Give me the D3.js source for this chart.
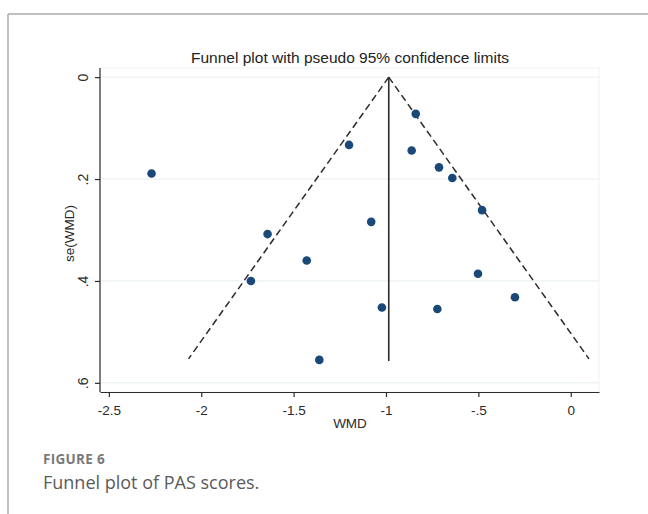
<!DOCTYPE html>
<html>
<head>
<meta charset="utf-8">
<script src="https://cdn.jsdelivr.net/npm/d3@7"></script>
<style>
  body { margin: 0; background: #fff; }
  svg { display: block; }
</style>
</head>
<body>
<svg width="648" height="514"></svg>
<script>
// study estimates
var wmd = [-2.269, -1.200, -1.080, -1.641, -1.429, -1.731, -1.022, -1.361,
           -0.839, -0.861, -0.713, -0.641, -0.480, -0.502, -0.302, -0.722]
var se_wmd = [0.189, 0.133, 0.284, 0.308, 0.360, 0.400, 0.452, 0.555,
              0.072, 0.144, 0.177, 0.198, 0.261, 0.386, 0.432, 0.455]

// pooled estimate and the depth of the pseudo 95% limits
var pooled = -0.985
var se_max = 0.553
var z95 = 1.96

var x_ticks = [-2.5, -2, -1.5, -1, -0.5, 0]
var x_labels = ["-2.5", "-2", "-1.5", "-1", "-.5", "0"]
var y_ticks = [0, 0.2, 0.4, 0.6]
var y_labels = ["0", ".2", ".4", ".6"]

function funnel_plot() {
    var svg = d3.select("svg")
    var font = "'Liberation Sans', Arial, sans-serif"
    var ink = "#2b2b2b"

    // frame of the figure panel
    svg.append("line").attr("x1", 8).attr("x2", 648).attr("y1", 14).attr("y2", 14)
        .attr("stroke", "#aaa").attr("stroke-width", 1.5)
    svg.append("line").attr("x1", 8).attr("x2", 8).attr("y1", 14).attr("y2", 514)
        .attr("stroke", "#aaa").attr("stroke-width", 1.5)

    var x = d3.scaleLinear().domain([-2.548, 0.153]).range([100, 599])
    var y = d3.scaleLinear().domain([-0.018, 0.618]).range([68, 392])

    // plot region outline (faint)
    svg.append("rect")
        .attr("x", 100).attr("y", 68).attr("width", 499).attr("height", 324)
        .attr("fill", "none").attr("stroke", "#eef1f3").attr("stroke-width", 1)

    // grid lines
    svg.append("g").selectAll("line").data(y_ticks).enter().append("line")
        .attr("x1", 100).attr("x2", 599)
        .attr("y1", function (d) { return y(d) }).attr("y2", function (d) { return y(d) })
        .attr("stroke", "#e7eef1").attr("stroke-width", 1)

    // x axis
    var gx = svg.append("g")
        .attr("transform", "translate(0,392)")
        .call(d3.axisBottom(x).tickValues(x_ticks).tickSize(5).tickSizeOuter(0).tickPadding(8)
            .tickFormat(function (d, i) { return x_labels[i] }))
    gx.selectAll("path, line").attr("stroke", ink).attr("stroke-width", 1.2)
    gx.selectAll("text").attr("font-family", font).attr("font-size", 13.5).attr("fill", ink)

    // y axis, labels turned like Stata
    var gy = svg.append("g")
        .attr("transform", "translate(100,0)")
        .call(d3.axisLeft(y).tickValues(y_ticks).tickSize(5).tickSizeOuter(0)
            .tickFormat(function (d, i) { return y_labels[i] }))
    gy.select(".domain").attr("d", "M0," + y.range()[0] + "V" + y.range()[1])
    gy.selectAll("path, line").attr("stroke", ink).attr("stroke-width", 1.2)
    gy.selectAll("text")
        .attr("font-family", font).attr("font-size", 14).attr("fill", ink)
        .attr("transform", "rotate(-90)")
        .attr("x", 0).attr("y", -12).attr("dy", 0)
        .attr("text-anchor", "middle")

    // pseudo confidence limits
    var apex = [x(pooled), y(0)]
    var left = [x(pooled - z95 * se_max), y(se_max)]
    var right = [x(pooled + z95 * se_max), y(se_max)]
    ;[left, right].forEach(function (p) {
        svg.append("line")
            .attr("x1", apex[0]).attr("y1", apex[1]).attr("x2", p[0]).attr("y2", p[1])
            .attr("stroke", ink).attr("stroke-width", 1.5)
            .attr("stroke-dasharray", "7,4")
    })
    svg.append("line")
        .attr("x1", x(pooled)).attr("x2", x(pooled))
        .attr("y1", y(0)).attr("y2", y(se_max) + 2)
        .attr("stroke", ink).attr("stroke-width", 1.6)

    // studies
    svg.append("g").selectAll("circle").data(wmd).enter().append("circle")
        .attr("cx", function (d) { return x(d) })
        .attr("cy", function (d, i) { return y(se_wmd[i]) })
        .attr("r", 4.3)
        .attr("fill", "#1a4878")

    // titles
    svg.append("text")
        .attr("x", 350).attr("y", 63)
        .attr("text-anchor", "middle")
        .attr("font-family", font).attr("font-size", 15.5).attr("fill", "#222")
        .text("Funnel plot with pseudo 95% confidence limits")
    svg.append("text")
        .attr("x", 350).attr("y", 428)
        .attr("text-anchor", "middle")
        .attr("font-family", font).attr("font-size", 13.5).attr("fill", ink)
        .text("WMD")
    svg.append("text")
        .attr("transform", "translate(74," + y(0.307) + ") rotate(-90)")
        .attr("text-anchor", "middle")
        .attr("font-family", font).attr("font-size", 13.5).attr("fill", ink)
        .text("se(WMD)")

    // caption
    svg.append("text")
        .attr("x", 43).attr("y", 464)
        .attr("font-family", "'Open Sans', sans-serif").attr("font-size", 13.5)
        .attr("font-weight", "bold").attr("fill", "#7a7a7a")
        .attr("letter-spacing", 0.3)
        .text("FIGURE 6")
    svg.append("text")
        .attr("x", 43).attr("y", 489)
        .attr("font-family", "'Open Sans', sans-serif").attr("font-size", 18)
        .attr("fill", "#5a5a5a")
        .text("Funnel plot of PAS scores.")
}

funnel_plot()
</script>
</body>
</html>
